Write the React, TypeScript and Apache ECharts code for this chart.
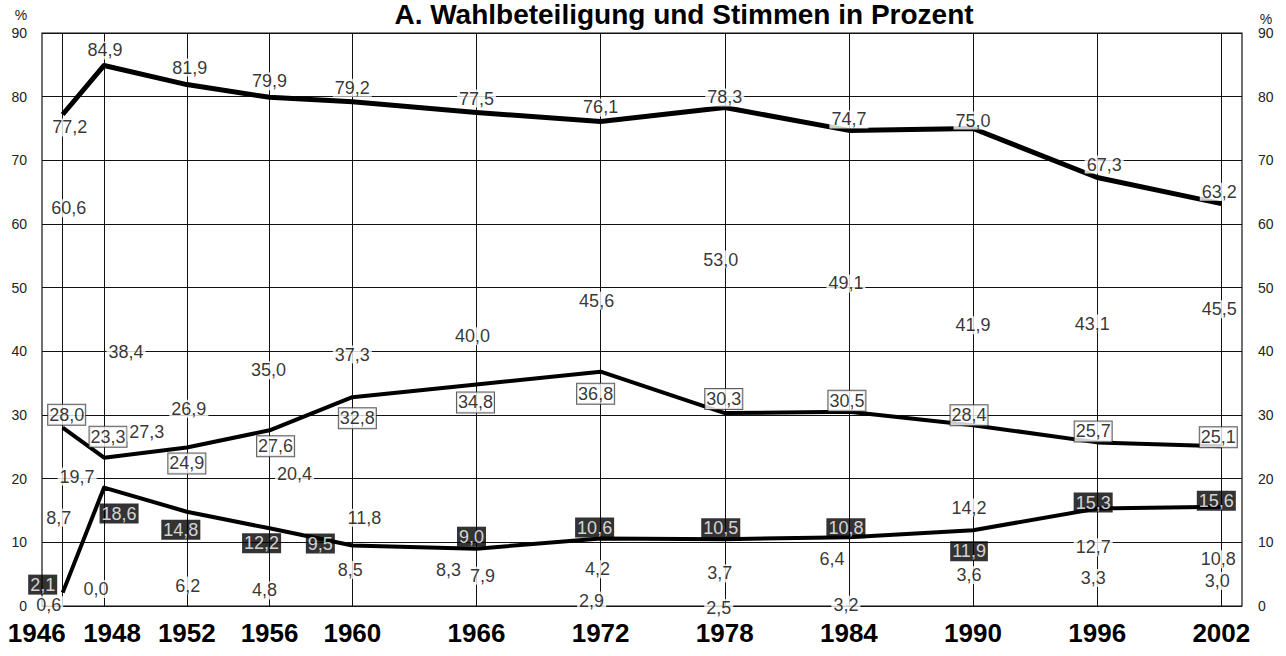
import React, { useEffect, useRef } from "react";
import * as echarts from "echarts";

// ---- data ----
const years = [1946, 1948, 1952, 1956, 1960, 1966, 1972, 1978, 1984, 1990, 1996, 2002];
const yTicks = [0, 10, 20, 30, 40, 50, 60, 70, 80, 90];
const turnout = [77.2, 84.9, 81.9, 79.9, 79.2, 77.5, 76.1, 78.3, 74.7, 75.0, 67.3, 63.2];
const partyA = [60.6, 38.4, 26.9, 35.0, 37.3, 40.0, 45.6, 53.0, 49.1, 41.9, 43.1, 45.5];
const partyB = [28.0, 23.3, 24.9, 27.6, 32.8, 34.8, 36.8, 30.3, 30.5, 28.4, 25.7, 25.1];
const partyC = [2.1, 18.6, 14.8, 12.2, 9.5, 9.0, 10.6, 10.5, 10.8, 11.9, 15.3, 15.6];
const others = [8.7, 19.7, 27.3, 20.4, 11.8, 8.3, 4.2, 3.7, 6.4, 14.2, 12.7, 10.8];
const partyD = [0.6, 0.0, 6.2, 4.8, 8.5, 7.9, 2.9, 2.5, 3.2, 3.6, 3.3, 3.0];

// ---- label placement (pixel offsets from each point) ----
const offTurnout = [[7, 13], [1, -15], [3, -17], [0, -16], [0, -14], [0, -14], [0, -14], [0, -10], [0, -11], [0, -8], [7, -13], [-2, -12]];
const offA = [[6, -12], [22, -10], [2, -26], [-1, -13], [0, -14], [-4, -15], [-4, -15], [-4, -9], [-3, -10], [0, -14], [-5, -8], [-2, -7]];
const offB = [[4, -13], [4, -21], [0, 16], [6, 16], [5, 21], [-1, 18], [-5, 22], [-1, -14], [-2, -11], [-4, -10], [-4, -11], [-3, -9]];
const offC = [[-20, -8], [15, 26], [-6, 18], [-8, 15], [-32, -2], [-5, -12], [-6, -11], [-4, -11], [-3, -9], [-4, 21], [-4, -6], [-5, -6]];
const offOthers = [[-4, -33], [-27, -4], [-40, 0], [25, -2], [12, -13], [-28, 17], [-3, -10], [-5, -9], [-17, -6], [-4, -8], [-4, 22], [-3, 22]];
const offD = [[-14, 3], [-8, -17], [1, 19], [-5, 15], [-2, 18], [6, 20], [-9, 13], [-6, 18], [-3, 19], [-4, -8], [-4, -7], [-4, -6]];

const FONT = '"Liberation Sans", Arial, Helvetica, sans-serif';
const fmt = (v: number) => v.toFixed(1).replace(".", ",");

function lineSeries(name: string, values: number[], width: number) {
  return {
    name,
    type: "line",
    data: values.map((v, i) => [years[i], v]),
    symbol: "none",
    lineStyle: { color: "#000", width, join: "round" },
    z: 3,
    silent: true,
  };
}

function labelSeries(name: string, values: number[], offsets: number[][], style: any) {
  return {
    name: name + " (Werte)",
    type: "scatter",
    data: values.map((v, i) => ({ value: [years[i], v], label: { offset: offsets[i] } })),
    symbolSize: 1,
    itemStyle: { color: "rgba(0,0,0,0)" },
    z: 5,
    silent: true,
    label: {
      show: true,
      position: "inside",
      formatter: (p: any) => fmt(p.value[1]),
      fontFamily: FONT,
      fontSize: 18,
      color: "#000",
      align: "center",
      verticalAlign: "middle",
      ...style,
    },
  };
}

const plain = { backgroundColor: "#fff", padding: [0, 2] };
const boxed = { backgroundColor: "#fff", borderColor: "#333", borderWidth: 1, padding: [1, 1] };
const black = { backgroundColor: "#000", color: "#fff", padding: [1, 2] };

export default function App() {
  const ref = useRef<HTMLDivElement>(null);
  useEffect(() => {
    document.body.style.margin = "0";
    const chart = echarts.init(ref.current!, null, { renderer: "svg" });
    const yAxisBase = {
      type: "value",
      min: 0,
      max: 90,
      interval: 10,
      axisLine: { show: false },
      axisTick: { show: false },
    };
    chart.setOption({
      animation: false,
      backgroundColor: "#fff",
      grid: { left: 42, right: 44, top: 33, bottom: 50, show: true, borderColor: "#111", borderWidth: 1.2 },
      graphic: [
        {
          type: "text",
          x: 684,
          y: 14,
          style: { text: "A. Wahlbeteiligung und Stimmen in Prozent", fontFamily: FONT, fontSize: 28, fontWeight: "bold", fill: "#000", align: "center", verticalAlign: "middle" },
        },
        { type: "text", x: 21, y: 15, style: { text: "%", fontFamily: FONT, fontSize: 14, fill: "#222", align: "center", verticalAlign: "middle" } },
        { type: "text", x: 1266, y: 19, style: { text: "%", fontFamily: FONT, fontSize: 14, fill: "#222", align: "center", verticalAlign: "middle" } },
      ],
      xAxis: {
        type: "value",
        min: 1945,
        max: 2003,
        axisLine: { show: false },
        axisTick: { show: false, customValues: years },
        splitLine: { show: true, customValues: years, lineStyle: { color: "#111", width: 1 } },
        axisLabel: {
          customValues: years,
          margin: 14,
          formatter: (v: number) => (v === 1946 ? `{a|${v}}` : v === 1948 ? `{b|${v}}` : `{n|${v}}`),
          rich: {
            a: { fontFamily: FONT, fontSize: 26, fontWeight: "bold", color: "#000", padding: [0, 52, 0, 0] },
            b: { fontFamily: FONT, fontSize: 26, fontWeight: "bold", color: "#000", padding: [0, 0, 0, 16] },
            n: { fontFamily: FONT, fontSize: 26, fontWeight: "bold", color: "#000" },
          },
        },
      },
      yAxis: [
        {
          ...yAxisBase,
          position: "left",
          splitLine: { show: true, lineStyle: { color: "#111", width: 1 } },
          axisLabel: { margin: 15, fontFamily: FONT, fontSize: 14, color: "#222", formatter: (v: number) => (yTicks.includes(v) ? String(v) : "") },
        },
        {
          ...yAxisBase,
          position: "right",
          splitLine: { show: false },
          axisLabel: { margin: 16, fontFamily: FONT, fontSize: 14, color: "#222", formatter: (v: number) => (yTicks.includes(v) ? String(v) : "") },
        },
      ],
      series: [
        lineSeries("Wahlbeteiligung", turnout, 5),
        lineSeries("Partei B", partyB, 4),
        lineSeries("Partei C", partyC, 4),
        labelSeries("Wahlbeteiligung", turnout, offTurnout, plain),
        labelSeries("Partei A", partyA, offA, plain),
        labelSeries("Partei B", partyB, offB, boxed),
        labelSeries("Partei C", partyC, offC, black),
        labelSeries("Sonstige", others, offOthers, plain),
        labelSeries("Partei D", partyD, offD, plain),
      ],
    });
    return () => chart.dispose();
  }, []);
  return <div ref={ref} style={{ width: 1286, height: 656 }} />;
}
